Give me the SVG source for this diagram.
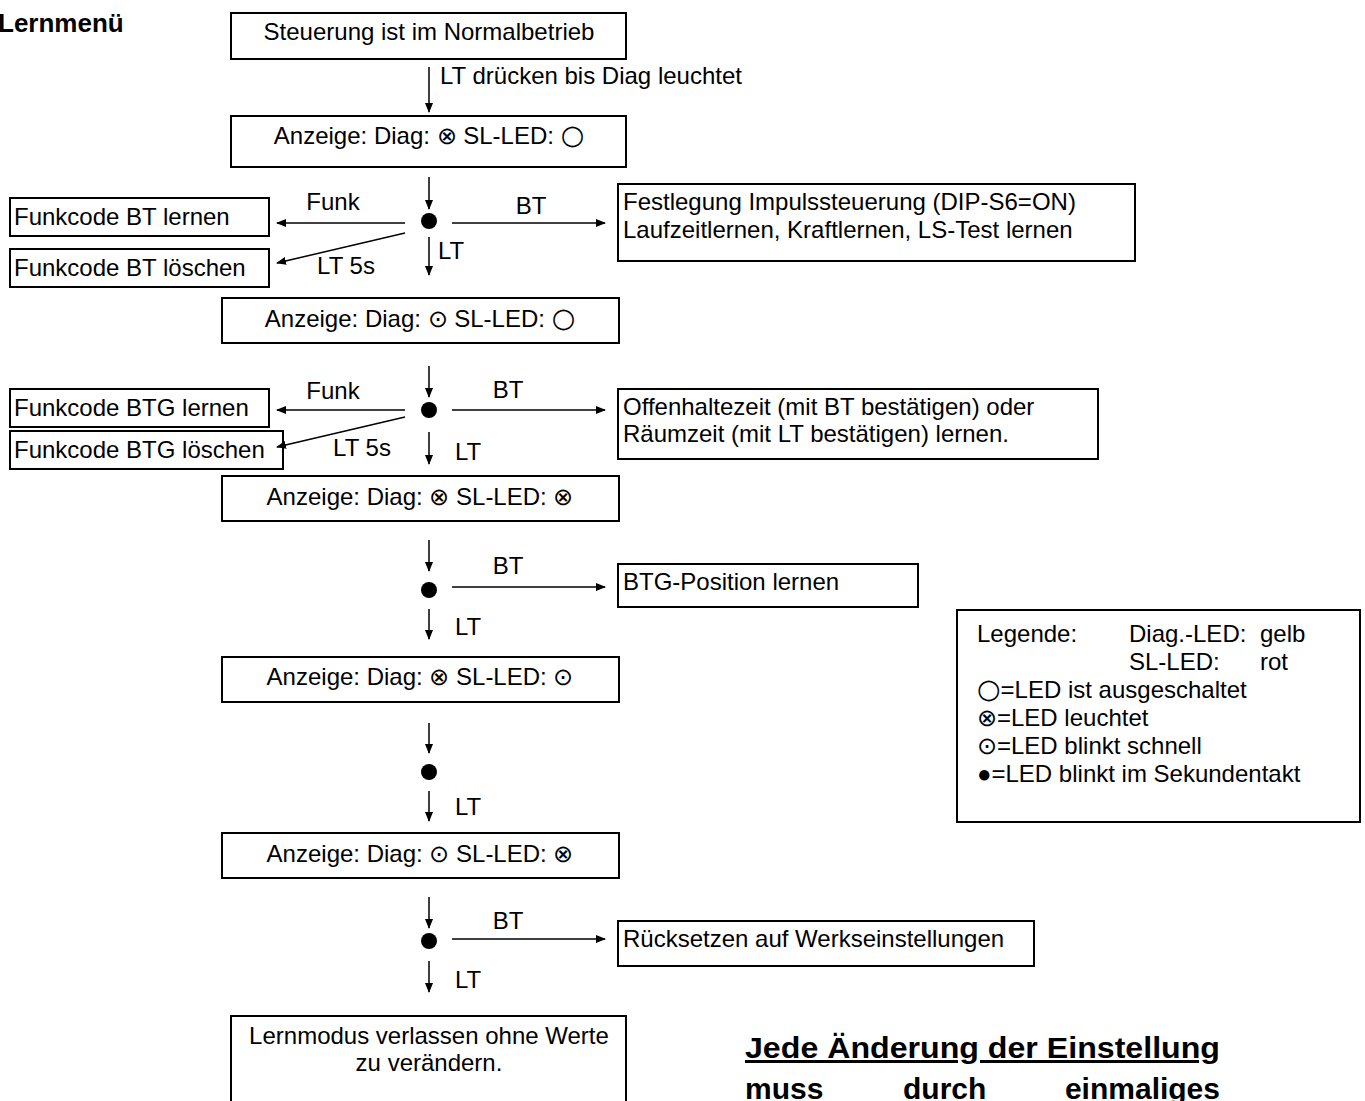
<svg xmlns="http://www.w3.org/2000/svg" width="1365" height="1101" viewBox="0 0 1365 1101">
<defs>
<marker id="ah" markerWidth="10" markerHeight="8" refX="9" refY="4" orient="auto" markerUnits="userSpaceOnUse">
<path d="M0,0 L10,4 L0,8 Z" fill="#000"/>
</marker>
<style>
text{font-family:"Liberation Sans",Arial,sans-serif;font-size:24px;fill:#000}
.c{text-anchor:middle}
rect{fill:#fff;stroke:#000;stroke-width:2}
.ln{stroke:#000;stroke-width:1.5;fill:none;marker-end:url(#ah)}
.b{font-weight:bold}
.o{font-family:"DejaVu Sans",sans-serif;font-size:27px}
.bn{font-weight:bold;font-size:30px}
</style>
</defs>
<rect x="0" y="0" width="1365" height="1101" style="fill:#fff;stroke:none"/>
<text x="-2" y="32" class="b" style="font-size:26px">Lernmenü</text>

<g id="n1"><rect x="231" y="13" width="395" height="46"/><text x="429" y="40" class="c">Steuerung ist im Normalbetrieb</text></g>
<g id="n2"><rect x="231" y="116" width="395" height="51"/><text x="429" y="144" class="c">Anzeige: Diag: ⊗ SL-LED: <tspan class="o">○</tspan></text></g>
<g id="n3"><rect x="10" y="198" width="259" height="38"/><text x="14" y="225">Funkcode BT lernen</text></g>
<g id="n4"><rect x="10" y="249" width="259" height="38"/><text x="14" y="276">Funkcode BT löschen</text></g>
<g id="n5"><rect x="618" y="184" width="517" height="77"/><text x="623" y="210">Festlegung Impulssteuerung (DIP-S6=ON)</text><text x="623" y="238">Laufzeitlernen, Kraftlernen, LS-Test lernen</text></g>
<g id="n6"><rect x="222" y="298" width="397" height="45"/><text x="420" y="327" class="c">Anzeige: Diag: ⊙ SL-LED: <tspan class="o">○</tspan></text></g>
<g id="n7"><rect x="10" y="389" width="259" height="38"/><text x="14" y="416">Funkcode BTG lernen</text></g>
<g id="n8"><rect x="10" y="431" width="273" height="38"/><text x="14" y="458">Funkcode BTG löschen</text></g>
<g id="n9"><rect x="618" y="389" width="480" height="70"/><text x="623" y="415">Offenhaltezeit (mit BT bestätigen) oder</text><text x="623" y="442">Räumzeit (mit LT bestätigen) lernen.</text></g>
<g id="n10"><rect x="222" y="476" width="397" height="45"/><text x="420" y="505" class="c">Anzeige: Diag: ⊗ SL-LED: ⊗</text></g>
<g id="n11"><rect x="618" y="564" width="300" height="43"/><text x="623" y="590">BTG-Position lernen</text></g>
<g id="n12"><rect x="222" y="657" width="397" height="45"/><text x="420" y="685" class="c">Anzeige: Diag: ⊗ SL-LED: ⊙</text></g>
<g id="n13"><rect x="222" y="833" width="397" height="45"/><text x="420" y="862" class="c">Anzeige: Diag: ⊙ SL-LED: ⊗</text></g>
<g id="n14"><rect x="618" y="921" width="416" height="45"/><text x="623" y="947">Rücksetzen auf Werkseinstellungen</text></g>
<g id="n15"><rect x="231" y="1016" width="395" height="100"/><text x="429" y="1044" class="c">Lernmodus verlassen ohne Werte</text><text x="429" y="1071" class="c">zu verändern.</text></g>

<g id="legend"><rect x="957" y="610" width="403" height="212"/>
<text x="977" y="642">Legende:</text><text x="1129" y="642">Diag.-LED:</text><text x="1260" y="642">gelb</text>
<text x="1129" y="670">SL-LED:</text><text x="1260" y="670">rot</text>
<text x="977" y="698"><tspan class="o">○</tspan>=LED ist ausgeschaltet</text>
<text x="977" y="726">⊗=LED leuchtet</text>
<text x="977" y="754">⊙=LED blinkt schnell</text>
<text x="977" y="782">●=LED blinkt im Sekundentakt</text>
</g>

<g id="note">
<text x="745" y="1058" class="bn" textLength="475" lengthAdjust="spacingAndGlyphs" style="text-decoration:underline">Jede Änderung der Einstellung</text>
<text x="745" y="1099" class="bn">muss</text>
<text x="903" y="1099" class="bn">durch</text>
<text x="1220" y="1099" class="bn" style="text-anchor:end">einmaliges</text>
</g>

<g id="dots">
<circle cx="429" cy="221" r="8"/>
<circle cx="429" cy="410" r="8"/>
<circle cx="429" cy="590" r="8"/>
<circle cx="429" cy="772" r="8"/>
<circle cx="429" cy="941" r="8"/>
</g>

<g id="connectors">
<line class="ln" x1="429" y1="67" x2="429" y2="112"/>
<line class="ln" x1="429" y1="177" x2="429" y2="209"/>
<line class="ln" x1="405" y1="223" x2="277" y2="223"/>
<line class="ln" x1="405" y1="233" x2="277" y2="263"/>
<line class="ln" x1="429" y1="237" x2="429" y2="275"/>
<line class="ln" x1="452" y1="223" x2="605" y2="223"/>
<line class="ln" x1="429" y1="366" x2="429" y2="397"/>
<line class="ln" x1="405" y1="410" x2="277" y2="410"/>
<line class="ln" x1="405" y1="417" x2="277" y2="447"/>
<line class="ln" x1="429" y1="432" x2="429" y2="464"/>
<line class="ln" x1="452" y1="410" x2="605" y2="410"/>
<line class="ln" x1="429" y1="540" x2="429" y2="571"/>
<line class="ln" x1="452" y1="587" x2="605" y2="587"/>
<line class="ln" x1="429" y1="609" x2="429" y2="639"/>
<line class="ln" x1="429" y1="723" x2="429" y2="753"/>
<line class="ln" x1="429" y1="791" x2="429" y2="821"/>
<line class="ln" x1="429" y1="897" x2="429" y2="928"/>
<line class="ln" x1="452" y1="939" x2="605" y2="939"/>
<line class="ln" x1="429" y1="961" x2="429" y2="992"/>
</g>
<g id="labels">
<text x="440" y="84">LT drücken bis Diag leuchtet</text>
<text x="333" y="210" class="c">Funk</text>
<text x="531" y="214" class="c">BT</text>
<text x="346" y="274" class="c">LT 5s</text>
<text x="438" y="259">LT</text>
<text x="333" y="399" class="c">Funk</text>
<text x="508" y="398" class="c">BT</text>
<text x="362" y="456" class="c">LT 5s</text>
<text x="455" y="460">LT</text>
<text x="508" y="574" class="c">BT</text>
<text x="455" y="635">LT</text>
<text x="455" y="815">LT</text>
<text x="508" y="929" class="c">BT</text>
<text x="455" y="988">LT</text>
</g>
</svg>
